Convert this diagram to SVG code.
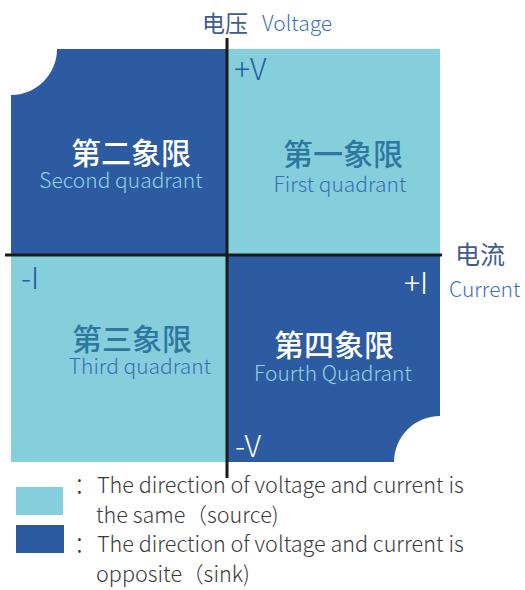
<svg xmlns="http://www.w3.org/2000/svg" width="525" height="590" viewBox="0 0 525 590">
<style>
.dark{fill:#2D5BA2}
.light{fill:#84CFDB}
.cn{font-family:"Noto Sans CJK SC","Noto Sans",sans-serif;font-weight:500}
.en{font-family:"Noto Sans CJK SC","Noto Sans",sans-serif;font-weight:300}
.axis{stroke:#1a1a1a;stroke-width:3;fill:none}
.lbl{fill:#3F5C8E;font-weight:400}
.blu{fill:#3E6FC0}
.leg{fill:#3a3a3a;font-size:21.6px}
.sign{font-size:30px}
</style>
<rect width="525" height="590" fill="#ffffff"/>
<g id="q2">
<path class="dark" d="M57,49 H226 V254 H11 V95 A46,46 0 0 0 57,49 Z"/>
<text class="cn" x="131" y="164" font-size="30" fill="#ffffff" text-anchor="middle">第二象限</text>
<text class="en" x="121" y="188" font-size="21" fill="#8FD3E6" text-anchor="middle">Second quadrant</text>
</g>
<g id="q1">
<rect class="light" x="226" y="49" width="214" height="205"/>
<text class="en sign" x="234" y="80" fill="#2D5BA2">+V</text>
<text class="cn" x="343" y="165" font-size="30" fill="#2C78A0" text-anchor="middle">第一象限</text>
<text class="en" x="340" y="192" font-size="21" fill="#3A6DB5" text-anchor="middle">First quadrant</text>
</g>
<g id="q3">
<rect class="light" x="11" y="254" width="215" height="208"/>
<text class="en sign" x="21" y="289" fill="#2D5BA2">-I</text>
<text class="cn" x="132" y="350" font-size="30" fill="#2C78A0" text-anchor="middle">第三象限</text>
<text class="en" x="140" y="374" font-size="21" fill="#3A6DB5" text-anchor="middle">Third quadrant</text>
</g>
<g id="q4">
<path class="dark" d="M226,254 H440 V416 A46,46 0 0 0 394,462 H226 Z"/>
<text class="en sign" x="404" y="294" fill="#ffffff">+I</text>
<text class="cn" x="334" y="356" font-size="30" fill="#ffffff" text-anchor="middle">第四象限</text>
<text class="en" x="333" y="381" font-size="21" fill="#8FD3E6" text-anchor="middle">Fourth Quadrant</text>
<text class="en sign" x="235" y="457" fill="#ffffff">-V</text>
</g>
<g id="axes">
<line class="axis" x1="227" y1="38" x2="227" y2="478"/>
<line class="axis" x1="5" y1="255" x2="442" y2="255"/>
</g>
<g id="axis-labels">
<text class="cn lbl" x="202" y="32" font-size="23">电压</text>
<text class="en blu" x="262" y="31" font-size="21">Voltage</text>
<text class="cn lbl" x="455" y="264" font-size="25">电流</text>
<text class="en blu" x="449" y="297" font-size="21">Current</text>
</g>
<g id="legend">
<rect class="light" x="16" y="487" width="47" height="28"/>
<rect class="dark" x="16" y="525" width="48" height="28"/>
<text class="en leg" x="74" y="493">：</text>
<text class="en leg" x="97" y="493">The direction of voltage and current is</text>
<text class="en leg" x="96" y="523">the same（source)</text>
<text class="en leg" x="74" y="552">：</text>
<text class="en leg" x="97" y="552">The direction of voltage and current is</text>
<text class="en leg" x="96" y="582">opposite（sink)</text>
</g>
</svg>
